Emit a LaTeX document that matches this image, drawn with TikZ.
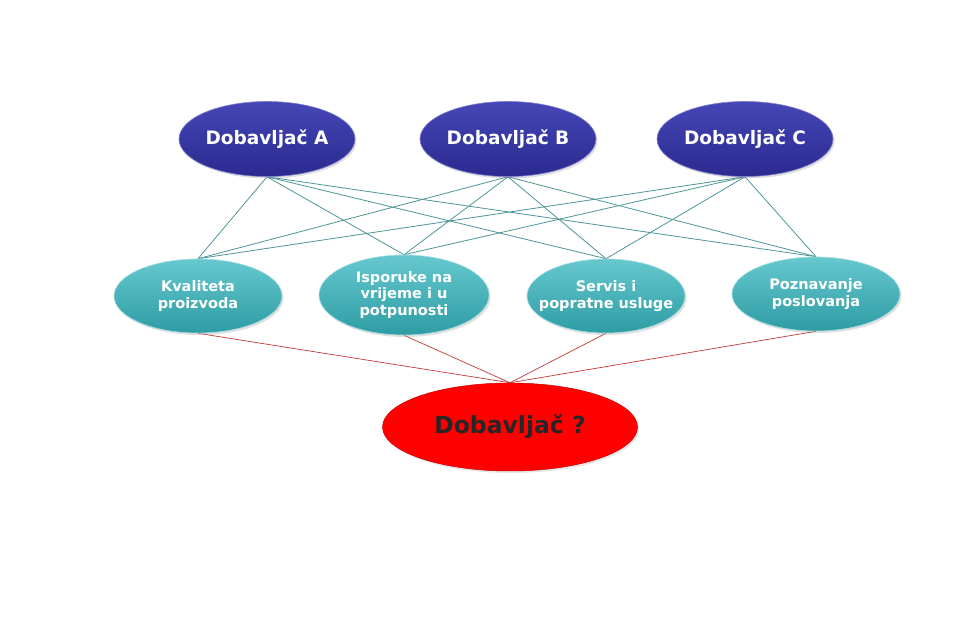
\documentclass[tikz,border=0pt]{standalone}
\usepackage{fontspec}
\setmainfont{DejaVu Sans}
\usetikzlibrary{shapes.geometric,shadings,shadows,backgrounds}
\definecolor{supblue}{HTML}{2A2A90}
\definecolor{suplight}{HTML}{4646B6}
\definecolor{critteal}{HTML}{2E9CA4}
\definecolor{critlight}{HTML}{66C8CE}
\definecolor{linkteal}{HTML}{4E9698}
\definecolor{linkred}{HTML}{C23A3A}
\tikzset{
  supnode/.style={ellipse, minimum width=176pt, minimum height=75pt, inner sep=0pt,
    top color=suplight, bottom color=supblue, draw=suplight!70!white, line width=0.6pt,
    text=white, font=\bfseries\fontsize{18.5}{21}\selectfont,
    drop shadow={shadow xshift=1.5pt, shadow yshift=-2pt, opacity=0.25}},
  critnode/.style={ellipse, minimum width=168pt, minimum height=74pt, inner sep=0pt,
    top color=critlight, bottom color=critteal, draw=critlight!60!white, line width=0.6pt,
    text=white, align=center, font=\bfseries\fontsize{14.5}{16.5}\selectfont,
    drop shadow={shadow xshift=1.5pt, shadow yshift=-2pt, opacity=0.25}},
  goalnode/.style={ellipse, minimum width=255pt, minimum height=88pt, inner sep=0pt,
    fill=red, draw=red!80!black, line width=0.5pt,
    text=black!85, font=\bfseries\fontsize{23.5}{26}\selectfont,
    drop shadow={shadow xshift=1.5pt, shadow yshift=-2pt, opacity=0.2}},
  tlink/.style={draw=linkteal, line width=0.8pt},
  rlink/.style={draw=linkred, line width=0.7pt},
}
\begin{document}
\begin{tikzpicture}[x=1pt,y=-1pt]
\useasboundingbox (0,0) rectangle (954,617);
\node[supnode] (A) at (267,139) {Dobavljač A};
\node[supnode] (B) at (508,139) {Dobavljač B};
\node[supnode] (C) at (745,139) {Dobavljač C};
\node[critnode] (K) at (198,296) {Kvaliteta\\proizvoda};
\node[critnode, minimum height=80pt, minimum width=170pt] (I) at (404,295) {Isporuke na\\vrijeme i u\\potpunosti};
\node[critnode, minimum width=158pt, inner xsep=-14pt] (S) at (606,296) {Servis i\\popratne usluge};
\node[critnode] (P) at (816,294) {Poznavanje\\poslovanja};
\node[goalnode] (G) at (510,427) {Dobavljač ?};
\begin{pgfonlayer}{background}
\fill[white] (0,0) rectangle (954,617);
\foreach \s in {A,B,C}{
  \foreach \t in {K,I,S,P}{
    \path[tlink] (\s.south) -- (\t.north);
  }
}
\foreach \s in {K,I,S,P}{
  \path[rlink] (\s.south) -- (G.north);
}
\end{pgfonlayer}
\end{tikzpicture}
\end{document}
